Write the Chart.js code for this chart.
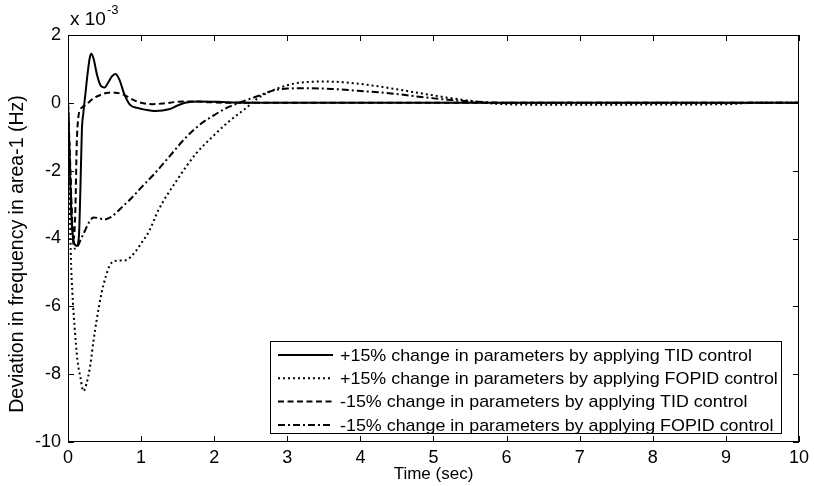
<!DOCTYPE html>
<html>
<head>
<meta charset="utf-8">
<script src="https://cdn.jsdelivr.net/npm/chart.js@4.4.1/dist/chart.umd.min.js"></script>
<style>
    html, body { margin: 0; padding: 0; background: #fff; }
    #wrap { width: 814px; height: 486px; }
</style>
</head>
<body>
<div id="wrap"><canvas id="myChart" width="814" height="486"></canvas></div>
<script>
// Values: time in sec, deviation in units of 10^-3 Hz
const tPlusTID = [0, 0.02, 0.05, 0.08, 0.12, 0.15, 0.17, 0.19, 0.21, 0.24, 0.27, 0.30, 0.32, 0.35, 0.40, 0.45, 0.50, 0.55, 0.60, 0.65, 0.70, 0.77, 0.85, 0.95, 1.05, 1.2, 1.38, 1.5, 1.6, 1.8, 2.05, 2.3, 2.6, 3, 4, 5, 6, 7, 8, 9, 10];
const vPlusTID = [0, -1.5, -3.5, -4.1, -4.22, -3.9, -2.5, -0.8, -0.3, 0.3, 0.9, 1.35, 1.45, 1.3, 0.8, 0.5, 0.45, 0.6, 0.78, 0.85, 0.7, 0.26, -0.06, -0.15, -0.2, -0.24, -0.19, -0.08, 0.0, 0.04, 0.03, 0.01, 0, 0, 0, 0, 0, 0, 0, 0, 0];

const tPlusFOPID = [0, 0.02, 0.04, 0.06, 0.09, 0.13, 0.17, 0.21, 0.25, 0.30, 0.35, 0.39, 0.46, 0.52, 0.57, 0.64, 0.72, 0.79, 0.91, 1.0, 1.11, 1.24, 1.5, 1.75, 2.0, 2.2, 2.42, 2.6, 2.75, 2.9, 3.1, 3.5, 3.8, 4.1, 4.5, 4.8, 5.17, 5.5, 5.8, 6.2, 7, 8, 9, 9.4, 10];
const vPlusFOPID = [0, -2.5, -4.6, -5.6, -6.6, -7.6, -8.1, -8.5, -8.3, -7.8, -7.0, -6.43, -5.6, -5.1, -4.8, -4.66, -4.65, -4.64, -4.42, -4.15, -3.78, -3.15, -2.25, -1.5, -0.95, -0.55, -0.18, 0.14, 0.32, 0.45, 0.57, 0.63, 0.6, 0.53, 0.4, 0.29, 0.16, 0.06, -0.02, -0.05, -0.06, -0.05, -0.04, 0, 0];

const tMinusTID = [0, 0.03, 0.06, 0.08, 0.10, 0.12, 0.14, 0.17, 0.20, 0.25, 0.30, 0.37, 0.45, 0.55, 0.65, 0.72, 0.80, 0.90, 1.0, 1.15, 1.3, 1.5, 1.7, 1.9, 2.2, 2.5, 3, 4, 5, 6, 7, 8, 9, 10];
const vMinusTID = [0, -1.8, -3.6, -4.0, -3.2, -1.2, -0.45, -0.2, -0.12, -0.06, 0.05, 0.16, 0.24, 0.3, 0.3, 0.27, 0.2, 0.08, 0.0, -0.04, -0.02, 0.03, 0.04, 0.02, 0, 0, 0, 0, 0, 0, 0, 0, 0, 0];

const tMinusFOPID = [0, 0.03, 0.06, 0.1, 0.14, 0.18, 0.23, 0.28, 0.35, 0.42, 0.5, 0.58, 0.66, 0.75, 0.85, 1.0, 1.2, 1.4, 1.6, 1.8, 2.0, 2.2, 2.4, 2.6, 2.8, 3.0, 3.3, 3.6, 4.0, 4.5, 4.8, 5.2, 5.6, 6, 7, 8, 9, 10];
const vMinusFOPID = [0, -2.0, -3.8, -4.3, -4.2, -4.0, -3.78, -3.55, -3.38, -3.4, -3.44, -3.38, -3.24, -3.05, -2.85, -2.5, -2.05, -1.55, -1.05, -0.65, -0.36, -0.12, 0.05, 0.2, 0.36, 0.42, 0.43, 0.41, 0.35, 0.26, 0.18, 0.09, 0.03, 0, 0, 0, 0, 0];

const seriesLabels = [
    '+15% change in parameters by applying TID control',
    '+15% change in parameters by applying FOPID control',
    '-15% change in parameters by applying TID control',
    '-15% change in parameters by applying FOPID control'
];

const xTicks = [0, 1, 2, 3, 4, 5, 6, 7, 8, 9, 10];
const yTicks = [2, 0, -2, -4, -6, -8, -10];

const FONT = 'Arial, "Liberation Sans", Helvetica, sans-serif';

const toPoints = (ts, vs) => ts.map((t, i) => ({ x: t, y: vs[i] }));

const makeLine = (label, pts, dash) => ({
    label: label,
    data: pts,
    borderColor: '#000',
    backgroundColor: '#000',
    borderWidth: 2,
    borderDash: dash,
    pointRadius: 0,
    fill: false,
    cubicInterpolationMode: 'monotone'
});

// MATLAB-like frame: box, inward ticks, exponent, y label, legend inside the axes
const matlabFrame = {
    id: 'matlabFrame',
    afterDraw(chart) {
        const { ctx, chartArea: a, scales: { x, y } } = chart;
        ctx.save();
        ctx.strokeStyle = '#000';
        ctx.lineWidth = 1;
        ctx.setLineDash([]);
        ctx.strokeRect(a.left + 0.5, a.top + 0.5, a.right - a.left - 1, a.bottom - a.top - 1);

        ctx.beginPath();
        xTicks.forEach(v => {
            const px = Math.round(x.getPixelForValue(v)) + 0.5;
            ctx.moveTo(px, a.bottom); ctx.lineTo(px, a.bottom - 6);
            ctx.moveTo(px, a.top); ctx.lineTo(px, a.top + 6);
        });
        yTicks.forEach(v => {
            const py = Math.round(y.getPixelForValue(v)) + 0.5;
            ctx.moveTo(a.left, py); ctx.lineTo(a.left + 6, py);
            ctx.moveTo(a.right, py); ctx.lineTo(a.right - 6, py);
        });
        ctx.stroke();

        ctx.fillStyle = '#000';
        ctx.textBaseline = 'alphabetic';
        ctx.textAlign = 'left';

        // exponent label
        ctx.font = '19px ' + FONT;
        ctx.fillText('x 10', a.left + 2, a.top - 10);
        const w = ctx.measureText('x 10').width;
        ctx.font = '13px ' + FONT;
        ctx.fillText('-3', a.left + 3 + w, a.top - 21);

        // y axis label
        ctx.save();
        ctx.translate(18, 254);
        ctx.rotate(-Math.PI / 2);
        ctx.textAlign = 'center';
        ctx.textBaseline = 'middle';
        ctx.font = '19.5px ' + FONT;
        ctx.fillText('Deviation in frequency in area-1 (Hz)', 0, 0);
        ctx.restore();

        // legend
        const box = { left: 270, top: 341, right: 782, bottom: 434 };
        ctx.fillStyle = '#fff';
        ctx.fillRect(box.left, box.top, box.right - box.left, box.bottom - box.top);
        ctx.strokeRect(box.left + 0.5, box.top + 0.5, box.right - box.left - 1, box.bottom - box.top - 1);
        ctx.font = '17px ' + FONT;
        const sx = 412 / ctx.measureText(seriesLabels[0]).width;
        chart.data.datasets.forEach((ds, i) => {
            const cy = box.top + 14 + i * 23.3;
            ctx.beginPath();
            ctx.lineWidth = 2;
            ctx.setLineDash(ds.borderDash);
            ctx.moveTo(box.left + 8, cy);
            ctx.lineTo(box.left + 63, cy);
            ctx.stroke();
            ctx.setLineDash([]);
            ctx.save();
            ctx.translate(box.left + 70, cy);
            ctx.scale(sx, 1);
            ctx.fillStyle = '#000';
            ctx.textBaseline = 'middle';
            ctx.fillText(ds.label, 0, 1);
            ctx.restore();
        });
        ctx.restore();
    }
};

new Chart('myChart', {
    type: 'line',
    data: {
        datasets: [
            makeLine(seriesLabels[0], toPoints(tPlusTID, vPlusTID), []),
            makeLine(seriesLabels[1], toPoints(tPlusFOPID, vPlusFOPID), [2, 3]),
            makeLine(seriesLabels[2], toPoints(tMinusTID, vMinusTID), [6, 3.5]),
            makeLine(seriesLabels[3], toPoints(tMinusFOPID, vMinusFOPID), [7, 3, 2, 3])
        ]
    },
    options: {
        responsive: false,
        animation: false,
        layout: { padding: { top: 35, right: 7, left: 0, bottom: 0 } },
        plugins: {
            legend: { display: false },
            tooltip: { enabled: false }
        },
        scales: {
            x: {
                type: 'linear',
                min: 0,
                max: 10,
                afterBuildTicks: (axis) => { axis.ticks = xTicks.map(v => ({ value: v })); },
                afterFit: (axis) => { axis.height = 44; },
                grid: { display: false, drawTicks: false },
                border: { display: false },
                ticks: { color: '#000', padding: 5, maxRotation: 0, font: { family: FONT, size: 18 } },
                title: {
                    display: true,
                    text: 'Time (sec)',
                    color: '#000',
                    padding: { top: 0, bottom: 1 },
                    font: { family: FONT, size: 17 }
                }
            },
            y: {
                type: 'linear',
                min: -10,
                max: 2,
                afterBuildTicks: (axis) => { axis.ticks = yTicks.map(v => ({ value: v })); },
                afterFit: (axis) => { axis.width = 68; },
                grid: { display: false, drawTicks: false },
                border: { display: false },
                ticks: { color: '#000', padding: 7, font: { family: FONT, size: 18 } }
            }
        }
    },
    plugins: [matlabFrame]
});
</script>
</body>
</html>
